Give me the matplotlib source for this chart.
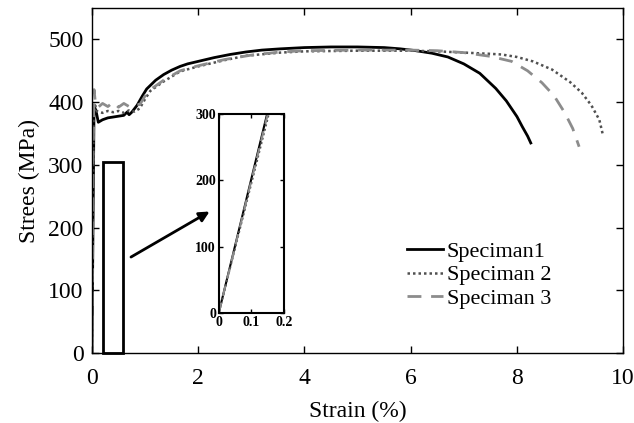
import matplotlib
matplotlib.use("Agg")
import matplotlib.pyplot as plt
from matplotlib.patches import Rectangle

plt.rcParams['font.family'] = ['Liberation Serif', 'DejaVu Serif']

labels = ["Speciman1", "Speciman 2", "Speciman 3"]

strain1 = [0, 0.04, 0.08, 0.12, 0.2, 0.3, 0.45, 0.6, 0.66, 0.7, 0.75, 0.85, 0.95, 1.03, 1.2, 1.35,
           1.5, 1.66, 1.8, 2.0, 2.3, 2.6, 2.9, 3.2, 3.55, 4.0, 4.5, 5.0, 5.5, 5.8, 6.1, 6.4, 6.7,
           7.0, 7.3, 7.6, 7.8, 8.0, 8.1, 8.2, 8.26]
stress1 = [0, 395, 385, 368, 372, 375, 377, 379, 384, 380, 384, 395, 410, 421, 435, 444,
           451, 457, 461, 465, 471, 476, 480, 483, 485, 487, 488, 488, 487, 485, 482, 478, 472,
           461, 446, 422, 402, 377, 361, 346, 335]

strain2 = [0, 0.03, 0.06, 0.1, 0.2, 0.3, 0.4, 0.5, 0.6, 0.7, 0.8, 0.9, 1.0, 1.1, 1.35, 1.66,
           2.0, 2.5, 2.9, 3.55, 4.0, 5.0, 6.0, 6.5, 7.0, 7.5, 7.71, 8.0, 8.3, 8.66, 9.0, 9.22,
           9.4, 9.55, 9.62]
stress2 = [0, 380, 395, 385, 383, 386, 384, 386, 383, 387, 385, 390, 405, 418, 433, 449,
           457, 467, 474, 479, 481, 482, 482, 481, 479, 477, 476, 472, 465, 452, 432, 415,
           395, 372, 347]

strain3 = [0, 0.02, 0.04, 0.07, 0.12, 0.2, 0.3, 0.4, 0.5, 0.6, 0.7, 0.8, 0.9, 1.0, 1.1, 1.35,
           1.66, 2.0, 2.5, 3.0, 3.55, 4.0, 5.0, 6.0, 6.5, 7.0, 7.5, 7.9, 8.2, 8.47, 8.7, 8.9,
           9.05, 9.17]
stress3 = [0, 300, 420, 395, 392, 398, 393, 400, 392, 398, 393, 398, 396, 410, 420, 435,
           450, 458, 468, 475, 480, 482, 483, 483, 482, 479, 473, 465, 450, 431, 410, 383,
           358, 329]

inset_strain1 = [0, 0.148]
inset_strain2 = [0, 0.153]
inset_strain3 = [0, 0.150]
inset_stress = [0, 300]

styles = [dict(color='black', ls='-', lw=2.0),
          dict(color='#505050', ls=(0, (1, 1.2)), lw=1.8),
          dict(color='#8c8c8c', ls=(0, (5, 3.5)), lw=2.0)]

fig = plt.figure(figsize=(6.34, 4.23), dpi=100)
ax = fig.add_axes([0.145, 0.165, 0.838, 0.816])

for x, y, lab, st in zip([strain1, strain2, strain3], [stress1, stress2, stress3], labels, styles):
    ax.plot(x, y, label=lab, **st)

ax.set_xlim(0, 10)
ax.set_ylim(0, 550)
ax.set_xticks([0, 2, 4, 6, 8, 10])
ax.set_yticks([0, 100, 200, 300, 400, 500])
ax.tick_params(direction='in', top=True, right=True, length=5, width=1, labelsize=17)
ax.tick_params(axis='x', pad=11)
ax.tick_params(axis='y', pad=6)
for s in ax.spines.values():
    s.set_linewidth(1.0)
ax.set_xlabel("Strain (%)", fontsize=17, labelpad=8)
ax.set_ylabel("Strees (MPa)", fontsize=17, labelpad=6)

ax.add_patch(Rectangle((0.2, 0), 0.39, 305, fill=False, lw=2, edgecolor='black', clip_on=False, zorder=5))
ax.annotate("", xy=(2.26, 228), xytext=(0.69, 151),
            arrowprops=dict(arrowstyle='-|>,head_length=0.6,head_width=0.3', color='black', lw=2))

leg = ax.legend(loc='upper left', bbox_to_anchor=(0.593, 0.323), frameon=False, fontsize=16,
                handlelength=1.6, handletextpad=0.2, labelspacing=0.12, borderpad=0, borderaxespad=0)

axi = fig.add_axes([0.345, 0.26, 0.103, 0.47])
for x, st in zip([inset_strain1, inset_strain2, inset_strain3], styles):
    axi.plot(x, inset_stress, **{**st, 'lw': 1.5})
axi.set_xlim(0, 0.2)
axi.set_ylim(0, 300)
axi.set_xticks([0, 0.1, 0.2])
axi.set_xticklabels(['0', '0.1', '0.2'])
axi.set_yticks([0, 100, 200, 300])
axi.tick_params(direction='in', top=True, right=True, length=3, width=1, labelsize=10, pad=2)
for lab in axi.get_xticklabels() + axi.get_yticklabels():
    lab.set_fontweight('bold')
for s in axi.spines.values():
    s.set_linewidth(1.5)

fig.savefig("out.png", dpi=100)
